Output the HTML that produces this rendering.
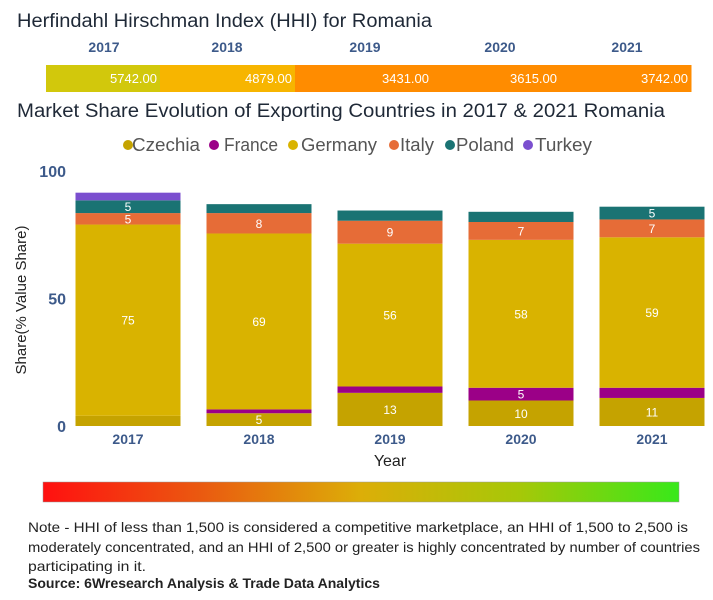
<!DOCTYPE html>
<html><head><meta charset="utf-8"><style>
body{margin:0;background:#fff;width:713px;height:600px;overflow:hidden;font-family:"Liberation Sans",sans-serif}
svg{display:block}
</style></head><body>
<svg id="chart" width="713" height="600" xmlns="http://www.w3.org/2000/svg">
<text x="17" y="27" font-size="19" fill="#1f2937" textLength="415" lengthAdjust="spacingAndGlyphs">Herfindahl Hirschman Index (HHI) for Romania</text>
<g id="hhi"></g>
<text x="17" y="117" font-size="19" fill="#1f2937" textLength="648" lengthAdjust="spacingAndGlyphs">Market Share Evolution of Exporting Countries in 2017 &amp; 2021 Romania</text>
<g id="legend"></g>
<g id="axes"></g>
<g id="bars"></g>
<text x="26" y="300" font-size="15" fill="#222" text-anchor="middle" transform="rotate(-90 26 300)">Share(% Value Share)</text>
<text x="390" y="466" font-size="16" fill="#222" text-anchor="middle">Year</text>
<defs><linearGradient id="grad" x1="0" x2="1"><stop offset="0" stop-color="#ff1010"/><stop offset="0.25" stop-color="#ea5a10"/><stop offset="0.5" stop-color="#dcae08"/><stop offset="0.75" stop-color="#a6c808"/><stop offset="1" stop-color="#38e81a"/></linearGradient></defs>
<rect x="43" y="482" width="636" height="20" fill="url(#grad)" stroke="#999" stroke-width="0.5"/>
<g font-size="14" fill="#222">
<text x="28" y="532" textLength="660" lengthAdjust="spacingAndGlyphs">Note - HHI of less than 1,500 is considered a competitive marketplace, an HHI of 1,500 to 2,500 is</text>
<text x="28" y="552" textLength="672" lengthAdjust="spacingAndGlyphs">moderately concentrated, and an HHI of 2,500 or greater is highly concentrated by number of countries</text>
<text x="28" y="571" textLength="118" lengthAdjust="spacingAndGlyphs">participating in it.</text>
<text x="28" y="588" font-weight="bold" textLength="352" lengthAdjust="spacingAndGlyphs">Source: 6Wresearch Analysis &amp; Trade Data Analytics</text>
</g>
</svg>
<script>
const years=['2017','2018','2019','2020','2021'];
const hhiValues=[5742,4879,3431,3615,3742];
const countries=['Czechia','France','Germany','Italy','Poland','Turkey'];
const czechia=[4,5,13,10,11];
const france=[0,1.5,2.5,5,4];
const germany=[75,69,56,58,59];
const italy=[4.5,8,9,7,7];
const poland=[5,3.5,4,4,5];
const turkey=[3,0,0,0,0];
const yTicks=[0,50,100];

const NS='http://www.w3.org/2000/svg';
function mk(tag,attrs,parent){const e=document.createElementNS(NS,tag);for(const k in attrs)e.setAttribute(k,attrs[k]);parent.appendChild(e);return e;}
const colors=['#c5a300','#9b0087','#d9b300','#e66c37','#1a7373','#7b4fcf'];
const series=[czechia,france,germany,italy,poland,turkey];

// HHI strip
const hhiG=document.getElementById('hhi');
const hhiEdges=[46,160,295,432,560,691];
const hhiLabelX=[104,227,365,500,627];
function hhiColor(v){return v>=5000?'#d2c80c':(v>=4000?'#f7b500':'#ff8c00');}
years.forEach((y,i)=>{
  const r=mk('rect',{x:hhiEdges[i],y:65,width:hhiEdges[i+1]-hhiEdges[i]+0.5,height:27,fill:hhiColor(hhiValues[i])},hhiG);
  
  
  const t=mk('text',{x:hhiEdges[i+1]-3,y:83,'font-size':13,fill:'#fff','text-anchor':'end'},hhiG);
  t.textContent=hhiValues[i].toFixed(2);
  
  
  const l=mk('text',{x:hhiLabelX[i],y:52,'font-size':14,'font-weight':'bold',fill:'#3d5a8a','text-anchor':'middle'},hhiG);
  l.textContent=y;
  
  
});

// legend
const lg=document.getElementById('legend');
const legDot=[128,214,293,394,450,528];
const legTxt=[132,224,301,400,456,535];
const legW=[68,54,76,34,58,57];
countries.forEach((c,i)=>{
  const g=mk('g',{},lg);
  
  
  mk('circle',{cx:legDot[i],cy:145,r:5,fill:colors[i]},g);
  const t=mk('text',{x:legTxt[i],y:151,'font-size':18,fill:'#555',textLength:legW[i],lengthAdjust:'spacingAndGlyphs'},g);
  t.textContent=c;
});

// axes
const y0=426,y100=171;
const yS=v=>y0-(v/100)*(y0-y100);
const xC=i=>128+i*131;
const bw=105;
const ax=document.getElementById('axes');
yTicks.forEach(v=>{
  const t=mk('text',{x:66,y:yS(v)+6,'font-size':16,'font-weight':'bold',fill:'#3d5a8a','text-anchor':'end'},ax);
  t.textContent=v;
  
  
});
years.forEach((y,i)=>{
  const t=mk('text',{x:xC(i),y:444,'font-size':14,'font-weight':'bold',fill:'#3d5a8a','text-anchor':'middle'},ax);
  t.textContent=y;
  
  
});

// bars
const bg=document.getElementById('bars');
years.forEach((y,i)=>{
  let cum=0;
  series.forEach((s,k)=>{
    const v=s[i];
    if(v<=0)return;
    const top=yS(cum+v),bot=yS(cum);
    const r=mk('rect',{x:xC(i)-bw/2,y:top,width:bw,height:bot-top,fill:colors[k]},bg);
    
    
    if(v>=4.5 && !(k===0&&i===0)){
      const t=mk('text',{x:xC(i),y:(top+bot)/2+4.5,'font-size':12,fill:'#fff','text-anchor':'middle'},bg);
      t.textContent=Math.round(v);
      
      
    }
    cum+=v;
  });
});
</script>
</body></html>
